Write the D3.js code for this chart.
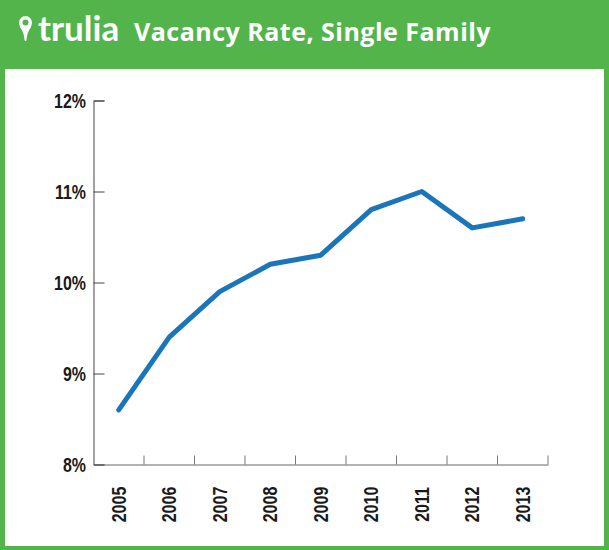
<!DOCTYPE html>
<html><head><meta charset="utf-8">
<script src="https://cdn.jsdelivr.net/npm/d3@7"></script>
<style>html,body{margin:0;padding:0;background:#fff}svg{display:block}</style>
</head><body><svg id="c" width="609" height="550"></svg>
<script>
const years=[2005,2006,2007,2008,2009,2010,2011,2012,2013];
const vacancy=[8.6,9.4,9.9,10.2,10.3,10.8,11.0,10.6,10.7];
const yTicks=[8,9,10,11,12];
const title="Vacancy Rate, Single Family";
const brand="trulia";
const svg=d3.select("#c");
svg.append("rect").attr("width",609).attr("height",550).attr("fill","#53b44c");
svg.append("rect").attr("x",5).attr("y",69).attr("width",599).attr("height",477).attr("fill","#fff");
const x=d3.scaleBand().domain(years).range([93.5,548]);
const y=d3.scaleLinear().domain([8,12]).range([464.5,100.5]);
const font="'Liberation Sans',sans-serif";
// header
svg.append("path").attr("transform","translate(25.5,16) scale(1.25)")
 .attr("d","M0 0a5.2 5.2 0 0 0-5.2 5.2c0 3 1.8 5 2.9 7.2.9 1.8 1.3 4.8 1.5 6.8a.8.8 0 0 0 1.6 0c.2-2 .6-5 1.5-6.8 1.1-2.2 2.9-4.2 2.9-7.2A5.2 5.2 0 0 0 0 0zm0 2.8a2.4 2.4 0 1 1 0 4.8 2.4 2.4 0 0 1 0-4.8z")
 .attr("fill","#fff");
svg.append("text").attr("x",38).attr("y",41).text(brand)
 .attr("font-family","Lato,'Open Sans',sans-serif").attr("font-size",35).attr("font-weight",700).attr("fill","#fff");
svg.append("text").attr("x",134).attr("y",41).text(title)
 .attr("font-family","'Open Sans',sans-serif").attr("font-size",25).attr("font-weight",700).attr("letter-spacing",0.49).attr("fill","#fff");
// axes
const gy=svg.append("g").attr("transform","translate(93.5,0)")
 .call(d3.axisLeft(y).tickValues(yTicks).tickSize(-11).tickFormat(d=>d+"%"));
gy.selectAll("path,line").attr("stroke","#444").attr("stroke-width",1);
gy.selectAll("text").attr("x",0).attr("dy","0.35em").attr("transform","translate(-7.5,0) scale(0.76,1)")
 .attr("font-family",font).attr("font-size",21).attr("font-weight",700).attr("fill","#1a1a1a");
const gx=svg.append("g").attr("transform","translate(0,464.5)")
 .call(d3.axisBottom(x).tickSize(0).tickFormat(d=>d));
gx.selectAll("path").attr("stroke","#666").attr("stroke-width",1);
gx.selectAll("text").attr("transform","translate(0,40) rotate(-90) scale(0.8,1)").attr("x",0).attr("y",0).attr("dy","0.35em")
 .attr("text-anchor","middle").attr("font-family",font).attr("font-size",20).attr("font-weight",700).attr("fill","#1a1a1a");
svg.append("g").selectAll("line").data(years).join("line")
 .attr("x1",d=>x(d)+x.bandwidth()).attr("x2",d=>x(d)+x.bandwidth())
 .attr("y1",455.5).attr("y2",464.5).attr("stroke","#777").attr("stroke-width",1);
// line
const line=d3.line().x((d,i)=>x(years[i])+x.bandwidth()/2).y(d=>y(d));
svg.append("path").datum(vacancy).attr("d",line).attr("fill","none")
 .attr("stroke","#1b75bb").attr("stroke-width",5).attr("stroke-linecap","round").attr("stroke-linejoin","round");
</script></body></html>
